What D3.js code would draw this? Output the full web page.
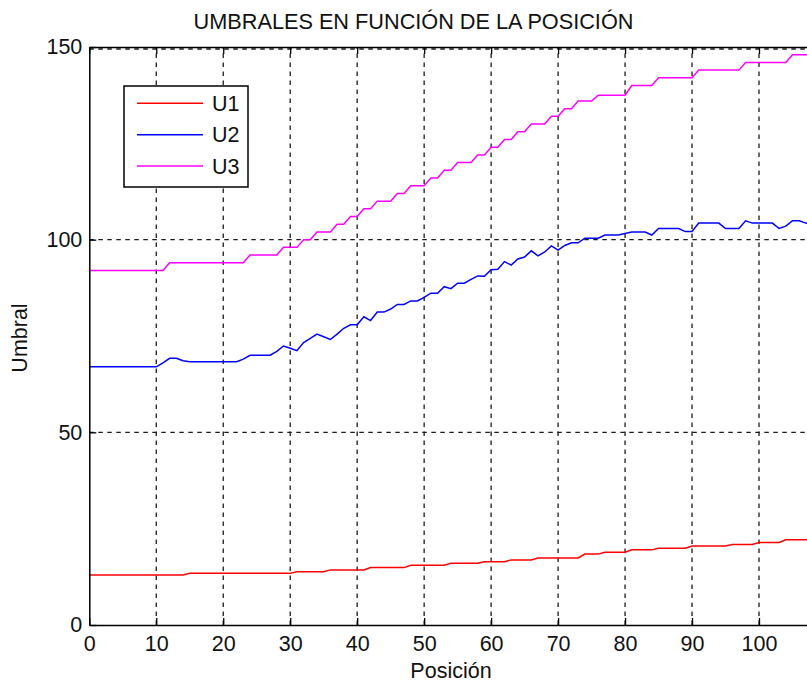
<!DOCTYPE html>
<html><head><meta charset="utf-8">
<script src="https://cdn.jsdelivr.net/npm/d3@7"></script>
<style>
body{margin:0;background:#fff}
svg{display:block}
text{font-family:"Liberation Sans",Arial,sans-serif;fill:#111}
</style>
</head><body>
<svg id="c" width="807" height="684"></svg>
<script>
// ---- data ----
const posicion = [0,1,2,3,4,5,6,7,8,9,10,11,12,13,14,15,16,17,18,19,20,21,22,23,24,25,26,27,28,29,30,31,32,33,34,35,36,37,38,39,40,41,42,43,44,45,46,47,48,49,50,51,52,53,54,55,56,57,58,59,60,61,62,63,64,65,66,67,68,69,70,71,72,73,74,75,76,77,78,79,80,81,82,83,84,85,86,87,88,89,90,91,92,93,94,95,96,97,98,99,100,101,102,103,104,105,106,107,108];
const U1 = [13,13,13,13,13,13,13,13,13,13,
  13,13,13,13,13,13.4,13.4,13.4,13.4,13.4,
  13.4,13.4,13.4,13.4,13.4,13.4,13.4,13.4,13.4,13.4,
  13.4,13.8,13.8,13.8,13.8,13.8,14.3,14.3,14.3,14.3,
  14.3,14.3,14.9,14.9,14.9,14.9,14.9,14.9,15.5,15.5,
  15.5,15.5,15.5,15.5,16,16,16,16,16,16.4,
  16.4,16.4,16.4,16.9,16.9,16.9,16.9,17.4,17.4,17.4,
  17.4,17.4,17.4,17.4,18.4,18.4,18.4,18.9,18.9,18.9,
  18.9,19.5,19.5,19.5,19.5,19.9,19.9,19.9,19.9,19.9,
  20.5,20.5,20.5,20.5,20.5,20.5,20.9,20.9,20.9,20.9,
  21.4,21.4,21.4,21.4,22.1,22.1,22.1,22.1,22.5];
const U2 = [67,67,67,67,67,67,67,67,67,67,
  67,68,69.2,69.2,68.6,68.3,68.3,68.3,68.3,68.3,
  68.3,68.3,68.3,69,70,70,70,70,71,72.4,
  71.8,71.2,73.3,74.4,75.5,74.8,74.1,75.5,77,77.9,
  77.9,80,79,81.2,81.2,82,83.2,83.2,84.1,84.1,
  85,86.1,86.1,87.8,87.3,88.7,88.7,89.7,90.6,90.5,
  92.2,92.3,94.3,93.4,95,95.5,97.1,95.8,96.8,98.4,
  97.3,98.5,99.2,99.2,100.4,100.4,100.4,101.2,101.2,101.2,
  101.6,102,102,102,101.2,102.9,102.9,102.9,102.9,102.1,
  102.1,104.3,104.3,104.3,104.3,102.9,102.9,102.9,104.9,104.3,
  104.3,104.3,104.3,102.9,103.5,104.9,104.9,104.3,104];
const U3 = [92,92,92,92,92,92,92,92,92,92,
  92,92,94,94,94,94,94,94,94,94,
  94,94,94,94,96,96,96,96,96,98,
  98,98,100,100,102,102,102,104,104,106,
  106,108,108,110,110,110,112,112,114,114,
  114,116,116,118,118,120,120,120,122,122,
  124,124,126,126,128,128,130,130,130,132,
  132,134,134,136,136,136,137.5,137.5,137.5,137.5,
  137.5,140,140,140,140,142,142,142,142,142,
  142,144,144,144,144,144,144,144,146,146,
  146,146,146,146,146,148,148,148,148];
const seriesNames = ["U1","U2","U3"];
const seriesColors = ["#ff0000","#0000ff","#ff00ff"];
const xTicks = [0,10,20,30,40,50,60,70,80,90,100];
const yTicks = [0,50,100,150];

// ---- layout ----
const svg = d3.select("#c");
const pL = 89.3, pT = 47, pB = 625;
const x = d3.scaleLinear().domain([0,110]).range([pL, pL + 110*6.697]);
const y = d3.scaleLinear().domain([0,150]).range([pB, pT]);
const pR = x(110);

svg.append("rect").attr("width",807).attr("height",684).attr("fill","#fff");

svg.append("defs").append("clipPath").attr("id","clip")
  .append("rect").attr("x",pL).attr("y",pT).attr("width",pR-pL).attr("height",pB-pT);

// grid
const grid = svg.append("g").attr("stroke","#1a1a1a").attr("stroke-width",1.3).attr("stroke-dasharray","4.5,4.5");
grid.selectAll("line.v").data(xTicks.filter(d=>d>0)).join("line").attr("class","v")
  .attr("x1",d=>x(d)).attr("x2",d=>x(d)).attr("y1",pB).attr("y2",pT);
grid.selectAll("line.h").data(yTicks.filter(d=>d>0)).join("line").attr("class","h")
  .attr("x1",pL).attr("x2",pR).attr("y1",d=>y(d)+(d===150?2:0)).attr("y2",d=>y(d)+(d===150?2:0));

// lines
const line = d3.line().x((d,i)=>x(posicion[i])).y(d=>y(d));
const data = [U1,U2,U3];
svg.append("g").attr("clip-path","url(#clip)")
  .selectAll("path").data(data).join("path")
  .attr("d",d=>line(d)).attr("fill","none")
  .attr("stroke",(d,i)=>seriesColors[i]).attr("stroke-width",1.5);

// axes
const fs = 21.5;
const xAxis = d3.axisBottom(x).tickValues(xTicks).tickSizeInner(-7).tickSizeOuter(0).tickPadding(11);
const gx = svg.append("g").attr("transform",`translate(0,${pB})`).call(xAxis);
const yAxis = d3.axisLeft(y).tickValues(yTicks).tickSizeInner(-7).tickSizeOuter(0).tickPadding(7);
const gy = svg.append("g").attr("transform",`translate(${pL},0)`).call(yAxis);
const xTop = d3.axisTop(x).tickValues(xTicks).tickSizeInner(-7).tickSizeOuter(0).tickFormat("");
const gt = svg.append("g").attr("transform",`translate(0,${pT})`).call(xTop);
[gx,gy,gt].forEach(g=>{
  g.select(".domain").attr("stroke","#000").attr("stroke-width",1.5);
  g.selectAll(".tick line").attr("stroke","#000").attr("stroke-width",1.3);
  g.selectAll("text").attr("font-size",fs).attr("fill","#111")
    .attr("font-family",'"Liberation Sans",Arial,sans-serif');
});

// labels
svg.append("text").attr("x",413.5).attr("y",29).attr("text-anchor","middle")
  .attr("font-size",21.7).text("UMBRALES EN FUNCIÓN DE LA POSICIÓN");
svg.append("text").attr("x",451).attr("y",678).attr("text-anchor","middle")
  .attr("font-size",fs).text("Posición");
svg.append("text").attr("transform","translate(27,338) rotate(-90)").attr("text-anchor","middle")
  .attr("font-size",fs).text("Umbral");

// legend
const lg = svg.append("g");
lg.append("rect").attr("x",124).attr("y",86).attr("width",124).attr("height",101)
  .attr("fill","#fff").attr("stroke","#000").attr("stroke-width",1.5);
const rows = lg.selectAll("g.r").data(seriesNames).join("g").attr("class","r")
  .attr("transform",(d,i)=>`translate(0,${103.3 + i*31.4})`);
rows.append("line").attr("x1",137).attr("x2",203).attr("y1",0).attr("y2",0)
  .attr("stroke",(d,i)=>seriesColors[i]).attr("stroke-width",1.5);
rows.append("text").attr("x",212).attr("y",0).attr("dy","0.36em")
  .attr("font-size",fs).text(d=>d);
</script>
</body></html>
